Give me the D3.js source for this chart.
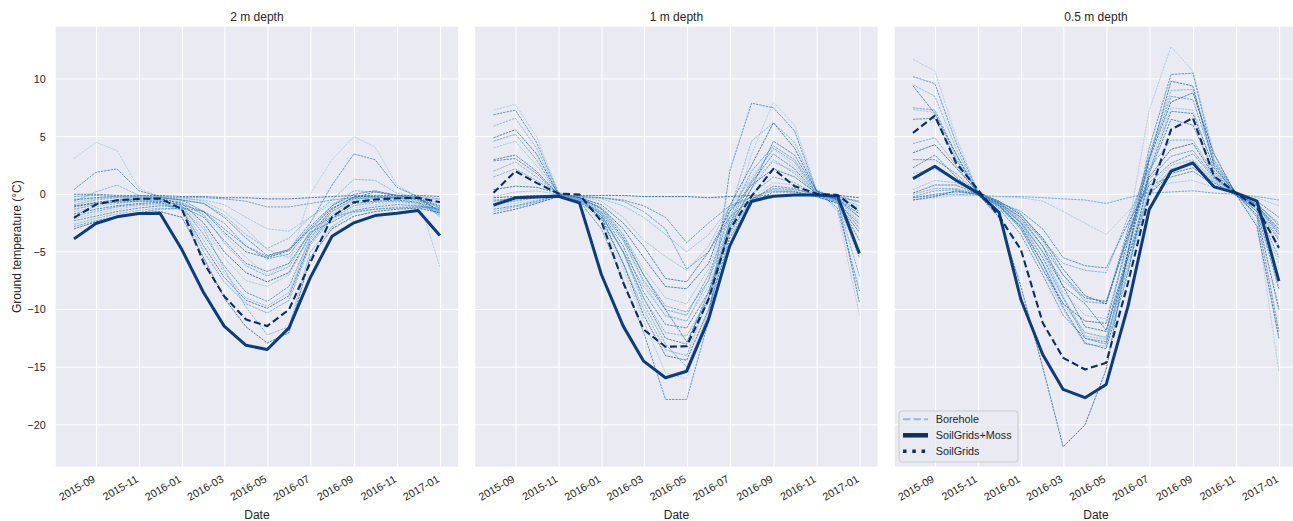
<!DOCTYPE html>
<html>
<head>
<meta charset="utf-8">
<script src="https://cdn.jsdelivr.net/npm/d3@7"></script>
<style>
  html, body { margin: 0; padding: 0; background: #ffffff; }
  svg { display: block; font-family: "Liberation Sans", Arial, sans-serif; }
</style>
</head>
<body>
<svg id="chart" width="1293" height="521"></svg>
<script>
// Monthly (month-end) ground temperature, °C
const months = [
  "2015-07-31","2015-08-31","2015-09-30","2015-10-31","2015-11-30","2015-12-31",
  "2016-01-31","2016-02-29","2016-03-31","2016-04-30","2016-05-31","2016-06-30",
  "2016-07-31","2016-08-31","2016-09-30","2016-10-31","2016-11-30","2016-12-31"
];
const panelTitles = ["2 m depth", "1 m depth", "0.5 m depth"];
const seriesNames = ["Borehole", "SoilGrids+Moss", "SoilGrids"];
const yTickValues = [-20, -15, -10, -5, 0, 5, 10];

// Borehole observations, 2 m depth
const borehole2m = [
  [3.1, 4.5, 3.8, 0.5, -0.2, -0.6, -1.8, -3.5, -5.5, -7.0, -6.0, 0.0, 3.0, 5.0, 4.1, 0.8, -0.3, -6.3],
  [0.4, 1.9, 2.2, 0.3, -0.2, -0.5, -1.5, -3.0, -4.5, -5.4, -4.8, -2.5, 0.8, 3.5, 3.0, 0.6, -0.2, -1.6],
  [-0.6, 0.2, 0.8, -0.1, -0.3, -0.5, -0.8, -1.8, -3.5, -4.7, -3.8, -2.0, -0.5, 1.3, 1.2, 0.1, -0.3, -2.0],
  [0.0, 0.0, -0.1, -0.1, -0.1, -0.2, -0.2, -0.3, -0.3, -0.4, -0.4, -0.3, -0.2, -0.1, -0.1, -0.1, -0.1, -0.2],
  [-0.2, -0.1, -0.2, -0.2, -0.2, -0.3, -0.3, -0.4, -0.6, -1.1, -1.1, -0.8, -0.5, -0.3, -0.2, -0.2, -0.2, -0.4],
  [-0.4, -0.3, -0.3, -0.3, -0.3, -0.4, -0.5, -0.9, -2.0, -3.0, -3.2, -2.0, -0.8, -0.4, -0.3, -0.3, -0.3, -0.5],
  [-0.5, -0.3, -0.2, -0.2, -0.3, -0.5, -0.8, -2.0, -3.8, -5.3, -4.8, -3.0, -1.2, -0.3, 0.2, -0.1, -0.3, -1.0],
  [-0.9, -0.5, -0.3, -0.3, -0.4, -0.7, -1.8, -4.2, -6.2, -7.1, -6.3, -3.2, -1.0, 0.3, 0.2, -0.1, -0.4, -1.2],
  [-1.1, -0.7, -0.5, -0.4, -0.4, -0.8, -2.5, -5.0, -6.8, -7.6, -6.8, -3.5, -1.3, -0.2, -0.2, -0.3, -0.4, -1.4],
  [-1.3, -0.9, -0.6, -0.5, -0.5, -1.0, -3.5, -6.2, -8.5, -9.3, -8.0, -3.8, -1.5, -0.4, -0.3, -0.3, -0.5, -1.5],
  [-1.5, -1.1, -0.8, -0.6, -0.6, -1.2, -4.0, -6.8, -9.0, -9.7, -8.5, -4.0, -1.7, -0.6, -0.4, -0.4, -0.6, -1.6],
  [-1.7, -1.3, -1.0, -0.8, -0.7, -1.3, -4.5, -7.2, -9.2, -9.9, -8.8, -4.2, -1.9, -0.8, -0.6, -0.5, -0.7, -1.7],
  [-1.9, -1.5, -1.1, -0.9, -0.8, -1.4, -5.0, -7.6, -9.5, -10.3, -9.2, -4.4, -2.1, -1.0, -0.7, -0.6, -0.8, -1.8],
  [-2.1, -1.7, -1.3, -1.0, -0.9, -1.0, -2.8, -5.5, -7.5, -8.0, -7.0, -3.6, -2.2, -1.2, -0.9, -0.7, -0.9, -1.5],
  [-2.3, -1.9, -1.5, -1.2, -1.0, -1.1, -2.0, -4.0, -6.0, -6.7, -6.0, -3.3, -2.4, -1.4, -1.1, -0.9, -1.0, -1.3],
  [-2.6, -2.1, -1.7, -1.4, -1.2, -1.3, -3.0, -6.5, -9.8, -12.2, -11.5, -5.0, -2.8, -1.6, -1.3, -1.1, -1.1, -1.4],
  [-3.0, -2.4, -2.0, -1.7, -1.5, -2.0, -5.5, -9.0, -11.5, -12.9, -12.0, -5.5, -3.0, -1.9, -1.5, -1.3, -1.2, -1.6],
  [-2.8, -2.3, -1.9, -1.6, -1.3, -1.2, -1.5, -2.5, -4.5, -5.6, -5.2, -3.0, -2.0, -1.5, -1.3, -1.2, -1.1, -1.2],
  [-0.7, -0.4, -0.2, -0.2, -0.2, -0.3, -0.6, -1.5, -3.0, -4.8, -5.5, -3.5, -1.5, -0.5, -0.2, -0.2, -0.2, -0.8],
  [-1.0, -0.8, -0.7, -0.6, -0.6, -0.9, -1.5, -3.3, -5.0, -5.5, -4.9, -2.8, -1.0, 0.0, 0.3, -0.1, -0.4, -1.1]
];

// Borehole observations, 1 m depth
const borehole1m = [
  [7.3, 7.8, 5.0, 0.2, -0.5, -2.5, -6.5, -11.0, -15.5, -16.0, -10.0, -3.0, 3.5, 8.0, 6.0, 0.5, -1.5, -10.5],
  [6.9, 7.3, 4.5, 0.1, -0.6, -3.0, -7.5, -12.0, -17.8, -17.8, -11.0, 2.0, 7.9, 7.5, 5.5, 0.3, -1.2, -8.4],
  [5.9, 6.6, 4.0, 0.0, -0.4, -2.0, -5.0, -8.0, -10.5, -11.0, -7.5, -1.5, 4.6, 6.2, 4.5, 0.4, -0.5, -3.0],
  [4.9, 5.6, 3.5, 0.0, -0.3, -1.2, -3.0, -5.5, -8.0, -8.2, -6.0, -1.0, 2.5, 6.2, 4.0, 0.3, -0.4, -2.0],
  [4.6, 5.2, 3.0, 0.0, -0.3, -1.5, -4.0, -7.5, -10.0, -10.5, -7.0, -2.0, 2.0, 4.2, 3.0, 0.2, -0.3, -1.5],
  [4.0, 4.6, 2.5, 0.0, -0.2, -1.0, -3.5, -6.5, -9.0, -9.5, -6.5, -1.5, 1.5, 3.9, 2.5, 0.2, -0.4, -2.5],
  [2.9, 3.1, 1.8, 0.0, -0.3, -1.8, -5.0, -9.0, -12.5, -13.0, -8.5, -2.5, 1.0, 3.5, 2.2, 0.1, -0.5, -4.0],
  [2.0, 2.8, 1.5, 0.0, -0.4, -2.2, -6.0, -10.0, -13.5, -14.0, -9.0, -3.0, 0.5, 3.0, 1.8, 0.0, -0.6, -7.1],
  [-0.3, -0.2, -0.1, -0.1, -0.1, -0.1, -0.1, -0.2, -0.2, -0.2, -0.3, -0.2, -0.1, -0.1, -0.1, -0.1, -0.1, -0.3],
  [-0.5, -0.4, -0.2, -0.1, -0.2, -0.3, -0.5, -1.0, -2.0, -4.2, -2.5, -1.0, -0.3, -0.2, -0.1, -0.1, -0.2, -0.7],
  [-0.8, -0.5, -0.3, -0.1, -0.2, -0.4, -1.0, -2.0, -3.5, -5.0, -3.5, -1.2, -0.2, 0.3, 0.2, -0.1, -0.3, -1.0],
  [0.4, 0.7, 0.6, 0.1, -0.3, -0.9, -2.5, -4.5, -7.3, -7.6, -5.0, -1.5, 0.8, 2.2, 1.5, 0.1, -0.4, -1.7],
  [-0.9, -0.6, -0.3, 0.0, -0.3, -1.2, -3.5, -7.0, -9.7, -10.2, -7.5, -2.5, 0.0, 1.5, 1.0, 0.0, -0.5, -2.0],
  [-1.1, -0.8, -0.5, -0.1, -0.4, -1.5, -4.0, -7.7, -10.6, -11.0, -8.0, -3.0, -0.3, 1.0, 0.8, -0.1, -0.6, -2.3],
  [-1.3, -1.0, -0.6, -0.1, -0.5, -1.6, -4.5, -8.5, -11.3, -11.6, -8.5, -3.3, -0.5, 0.7, 0.5, -0.1, -0.7, -2.6],
  [-1.5, -1.1, -0.7, -0.2, -0.5, -1.7, -5.0, -9.0, -12.0, -12.3, -9.0, -3.5, -0.6, 0.4, 0.3, -0.2, -0.7, -2.9],
  [-1.7, -1.3, -0.8, -0.2, -0.6, -2.0, -6.0, -10.5, -14.0, -14.4, -10.0, -3.8, -0.8, 0.2, 0.2, -0.2, -0.8, -3.3],
  [-0.6, -0.4, -0.2, 0.0, -0.2, -0.3, -0.6, -1.5, -3.0, -6.5, -5.0, -2.0, -0.4, 0.5, 0.4, 0.0, -0.2, -0.6],
  [-0.2, 0.2, 0.3, 0.0, -0.2, -0.6, -2.0, -4.0, -5.4, -6.6, -4.5, -1.0, 1.2, 2.8, 2.0, 0.1, -0.3, -1.2],
  [3.0, 3.4, 2.0, 0.0, -0.3, -1.3, -3.8, -7.0, -10.0, -12.8, -9.0, -2.8, 0.5, 4.6, 3.4, 0.3, -0.5, -9.4],
  [1.5, 2.2, 1.2, 0.0, -0.4, -1.8, -5.0, -9.5, -13.0, -15.0, -10.5, -2.2, 1.2, 4.0, 2.8, 0.1, -0.6, -5.5]
];

// Borehole observations, 0.5 m depth
const borehole05m = [
  [11.7, 10.7, 5.0, 0.3, -1.0, -3.0, -6.0, -9.0, -12.0, -12.5, -3.0, 7.3, 12.8, 10.7, 3.5, 0.0, -2.5, -15.4],
  [10.2, 9.6, 4.5, 0.2, -1.2, -3.5, -7.0, -10.5, -12.5, -13.0, -5.0, 4.0, 10.4, 10.5, 3.0, 0.1, -2.0, -11.9],
  [9.5, 8.5, 4.0, 0.1, -0.8, -2.5, -5.0, -7.5, -9.0, -9.3, -3.5, 3.5, 9.0, 9.1, 2.8, 0.2, -1.5, -4.5],
  [9.4, 7.0, 3.5, 0.0, -0.9, -3.0, -6.5, -9.5, -11.0, -11.2, -4.0, 3.0, 9.8, 9.4, 2.5, 0.0, -1.8, -10.0],
  [7.5, 7.3, 3.5, 0.2, -0.7, -2.2, -4.5, -7.0, -9.3, -9.5, -3.0, 3.2, 8.5, 8.2, 2.7, 0.1, -1.3, -5.5],
  [7.35, 7.1, 3.2, 0.1, -1.0, -2.8, -5.5, -8.5, -10.5, -10.8, -4.5, 2.5, 7.5, 7.3, 2.2, 0.0, -1.5, -6.0],
  [6.5, 6.6, 3.0, 0.2, -0.8, -2.4, -5.0, -8.0, -9.5, -11.8, -5.0, 2.0, 7.2, 7.0, 2.3, 0.1, -1.0, -3.5],
  [4.4, 4.9, 2.5, 0.1, -0.7, -2.0, -4.0, -6.0, -6.6, -6.8, -2.0, 2.2, 4.7, 4.7, 1.8, 0.1, -0.9, -2.5],
  [3.6, 4.3, 2.3, 0.2, -0.6, -1.8, -3.8, -6.5, -8.8, -9.5, -3.5, 1.5, 3.9, 4.4, 1.6, 0.0, -1.0, -3.0],
  [3.0, 3.0, 1.8, 0.1, -0.9, -2.5, -5.5, -9.0, -12.5, -12.8, -5.5, 1.0, 2.7, 3.5, 1.4, -0.1, -1.2, -4.0],
  [1.8, 2.2, 1.2, 0.0, -1.1, -3.0, -6.5, -10.0, -13.0, -13.2, -6.0, 0.5, 2.5, 3.0, 1.2, 0.0, -1.0, -3.2],
  [0.1, 0.8, 0.8, 0.0, -0.8, -2.0, -4.5, -8.0, -11.5, -11.9, -5.5, 0.0, 1.8, 2.3, 1.0, -0.1, -0.8, -2.7],
  [-0.3, -0.1, 0.0, -0.1, -0.2, -0.2, -0.3, -0.4, -0.5, -0.8, -0.3, 0.1, 0.2, 0.3, 0.1, 0.0, -0.2, -0.5],
  [-0.5, -0.3, -0.1, -0.1, -0.2, -0.3, -0.6, -1.5, -2.5, -3.5, -1.5, 0.3, 1.0, 1.2, 0.6, 0.0, -0.3, -1.0],
  [-0.3, 0.0, 0.2, 0.0, -0.7, -1.5, -3.0, -5.5, -6.2, -6.4, -2.5, 0.8, 1.5, 2.0, 0.8, 0.0, -0.6, -2.0],
  [0.0, 0.5, 0.5, 0.0, -1.0, -2.7, -6.0, -9.5, -12.0, -12.4, -6.5, 0.0, 2.2, 2.6, 1.1, -0.1, -1.0, -3.8],
  [-0.5, -0.2, 0.3, 0.0, -2.0, -8.0, -15.0, -21.9, -20.0, -15.2, -5.0, 3.0, 8.0, 8.8, 3.5, 0.0, -2.8, -12.5],
  [-0.2, 0.3, 0.4, 0.0, -0.6, -1.7, -4.0, -7.0, -9.0, -9.3, -3.8, 1.3, 3.3, 3.8, 1.5, 0.0, -0.9, -3.3],
  [0.4, 1.2, 1.0, 0.1, -0.9, -2.3, -5.0, -8.8, -12.3, -12.6, -6.2, 0.3, 2.0, 2.9, 1.3, 0.0, -1.1, -4.8],
  [2.3, 3.4, 1.5, 0.0, -1.0, -2.8, -6.0, -9.8, -12.9, -13.4, -6.8, 1.8, 6.5, 6.0, 2.0, 0.0, -1.5, -8.2]
];

// Model: SoilGrids+Moss
const moss2m  = [-3.87, -2.54, -1.96, -1.67, -1.65, -4.8, -8.55, -11.44, -13.1, -13.47, -11.59, -7.25, -3.64, -2.48, -1.85, -1.65, -1.41, -3.58];
const moss1m  = [-0.95, -0.31, -0.23, -0.17, -0.75, -6.96, -11.44, -14.48, -15.92, -15.35, -10.86, -4.5, -0.6, -0.17, -0.06, -0.06, -0.17, -5.14];
const moss05m = [1.36, 2.43, 1.21, 0.12, -1.56, -9.13, -13.9, -16.93, -17.65, -16.5, -9.71, -1.33, 2.0, 2.72, 0.64, 0.12, -0.6, -7.54];

// Model: SoilGrids
const soil2m  = [-2.05, -0.89, -0.52, -0.4, -0.37, -1.27, -5.95, -8.84, -10.86, -11.44, -10.0, -5.95, -1.96, -0.69, -0.46, -0.35, -0.31, -0.69];
const soil1m  = [0.12, 2.0, 0.99, 0.06, -0.03, -2.34, -7.68, -11.73, -13.23, -13.18, -9.13, -3.06, -0.17, 2.2, 0.7, 0.06, -0.06, -1.47];
const soil05m = [5.32, 6.82, 2.72, 0.41, -1.9, -4.8, -11.15, -14.19, -15.2, -14.62, -7.68, -0.17, 5.61, 6.62, 1.56, 0.12, -1.18, -4.65];

const boreholeSets = [borehole2m, borehole1m, borehole05m];
const mossSets = [moss2m, moss1m, moss05m];
const soilSets = [soil2m, soil1m, soil05m];

// ---- layout ----
const svg = d3.select("#chart");
const firstLeft = 55.7, panelStep = 419.5, panelW = 402.5;
const plotTop = 26.7, plotBottom = 466.7, plotH = plotBottom - plotTop;
const textColor = "#262626";
const fontTick = 10.8, fontLabel = 12;
const fontStack = "\"Liberation Sans\", Arial, sans-serif";

const dates = months.map(d3.utcParse("%Y-%m-%d"));
const t0 = +dates[0], t1 = +dates[dates.length - 1], tspan = t1 - t0;
const x = d3.scaleUtc()
  .domain([new Date(t0 - 0.05 * tspan), new Date(t1 + 0.05 * tspan)])
  .range([0, panelW]);

const allValues = boreholeSets.flat(2).concat(mossSets.flat(), soilSets.flat());
const [vmin, vmax] = d3.extent(allValues);
const vpad = 0.05 * (vmax - vmin);
const y = d3.scaleLinear().domain([vmin - vpad, vmax + vpad]).range([plotH, 0]);

const xTicks = x.ticks(d3.utcMonth.every(2));
const line = d3.line().x((d, i) => x(dates[i])).y(d => y(d));

const boreColor = (i) => d3.interpolateBlues(0.38 + 0.55 * ((i * 0.618034) % 1));

svg.append("defs").append("clipPath").attr("id", "plotclip")
  .append("rect").attr("x", 0).attr("y", 0).attr("width", panelW).attr("height", plotH);

panelTitles.forEach((title, p) => {
  const g = svg.append("g").attr("transform", `translate(${firstLeft + p * panelStep},${plotTop})`);

  g.append("rect").attr("width", panelW).attr("height", plotH).attr("fill", "#eaeaf2");

  // grid
  g.append("g").selectAll("line").data(yTickValues).join("line")
    .attr("x1", 0).attr("x2", panelW)
    .attr("y1", d => y(d)).attr("y2", d => y(d))
    .attr("stroke", "#ffffff").attr("stroke-width", 1);
  g.append("g").selectAll("line").data(xTicks).join("line")
    .attr("x1", d => x(d)).attr("x2", d => x(d))
    .attr("y1", 0).attr("y2", plotH)
    .attr("stroke", "#ffffff").attr("stroke-width", 1);

  const lines = g.append("g").attr("clip-path", "url(#plotclip)");

  // boreholes
  lines.selectAll("path.bore").data(boreholeSets[p]).join("path")
    .attr("class", "bore")
    .attr("d", line)
    .attr("fill", "none")
    .attr("stroke", (d, i) => boreColor(i))
    .attr("stroke-width", 0.9)
    .attr("stroke-opacity", 0.8)
    .attr("stroke-dasharray", "2.4,0.9");

  // SoilGrids+Moss
  lines.append("path").datum(mossSets[p])
    .attr("d", line).attr("fill", "none")
    .attr("stroke", "#0b3c82").attr("stroke-width", 3)
    .attr("stroke-linejoin", "round");

  // SoilGrids
  lines.append("path").datum(soilSets[p])
    .attr("d", line).attr("fill", "none")
    .attr("stroke", "#0a2d6a").attr("stroke-width", 2.1)
    .attr("stroke-dasharray", "7,3.5")
    .attr("stroke-linejoin", "round");

  // title
  g.append("text").attr("x", panelW / 2).attr("y", 20.6 - plotTop)
    .attr("text-anchor", "middle").attr("fill", textColor)
    .style("font-size", fontLabel + "px").text(title);

  // x axis
  const xa = g.append("g").attr("transform", `translate(0,${plotH})`)
    .call(d3.axisBottom(x).tickValues(xTicks).tickFormat(d3.utcFormat("%Y-%m")).tickSize(0));
  xa.select(".domain").remove();
  xa.selectAll("text")
    .attr("y", 0).attr("dy", 0)
    .attr("text-anchor", "end")
    .attr("transform", "translate(-1,14.6) rotate(-30)")
    .attr("fill", textColor)
    .style("font-size", fontTick + "px")
    .style("font-family", fontStack);

  g.append("text").attr("x", panelW / 2).attr("y", 519.5 - plotTop)
    .attr("text-anchor", "middle").attr("fill", textColor)
    .style("font-size", fontLabel + "px").text("Date");

  if (p === 0) {
    const ya = g.append("g")
      .call(d3.axisLeft(y).tickValues(yTickValues).tickSize(0).tickPadding(10));
    ya.select(".domain").remove();
    ya.selectAll("text").attr("fill", textColor)
      .style("font-size", fontTick + "px")
      .style("font-family", fontStack);
    g.append("text")
      .attr("transform", `translate(${20.7 - firstLeft},${plotH / 2}) rotate(-90)`)
      .attr("text-anchor", "middle").attr("fill", textColor)
      .style("font-size", fontLabel + "px").text("Ground temperature (°C)");
  }

  if (p === 2) {
    const lg = g.append("g").attr("transform", `translate(4.3,${411 - plotTop})`);
    lg.append("rect").attr("width", 119).attr("height", 51).attr("rx", 3)
      .attr("fill", "#eaeaf2").attr("fill-opacity", 0.8)
      .attr("stroke", "#cccccc").attr("stroke-width", 1);
    const handleStyles = [
      { stroke: "#8bbfe3", width: 2, dash: "7.4,3.2" },
      { stroke: "#08306b", width: 4.5, dash: null },
      { stroke: "#08306b", width: 3.5, dash: "3.5,5.8" }
    ];
    seriesNames.forEach((name, k) => {
      const yy = 8.3 + k * 16;
      const hs = handleStyles[k];
      lg.append("line").attr("x1", 4).attr("x2", 29).attr("y1", yy).attr("y2", yy)
        .attr("stroke", hs.stroke).attr("stroke-width", hs.width)
        .attr("stroke-dasharray", hs.dash);
      lg.append("text").attr("x", 36.7).attr("y", yy).attr("dy", "0.35em")
        .attr("fill", textColor).style("font-size", fontTick + "px").text(name);
    });
  }
});
</script>
</body>
</html>
